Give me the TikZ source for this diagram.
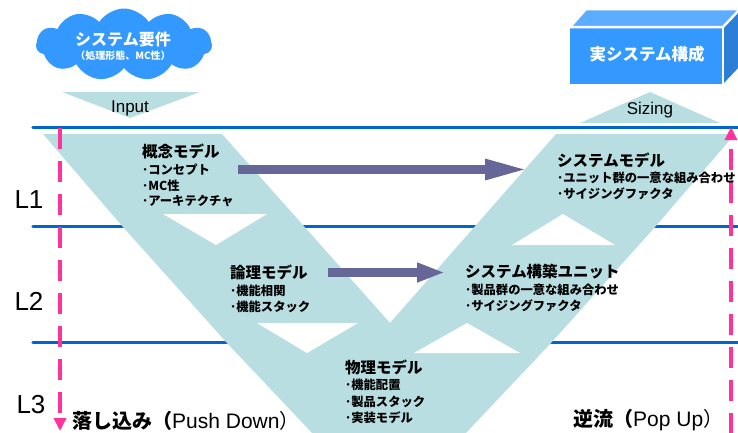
\documentclass[tikz,border=0pt]{standalone}
\usepackage{fontspec}
\setmainfont{Liberation Sans}
\newfontfamily\jp{Noto Sans CJK JP}
\usetikzlibrary{shapes.symbols,arrows.meta}
\definecolor{band}{RGB}{184,222,226}
\definecolor{lineblue}{RGB}{0,102,204}
\definecolor{cloudblue}{RGB}{51,153,255}
\definecolor{boxtop}{RGB}{92,173,255}
\definecolor{boxside}{RGB}{43,127,214}
\definecolor{hotpink}{RGB}{255,51,153}
\definecolor{slate}{RGB}{102,102,153}
\begin{document}
\begin{tikzpicture}[x=1pt,y=-1pt,
  level/.style={draw=lineblue,line width=3.5pt,line cap=round},
  bigarrow/.style={draw=slate,line width=8.5pt},
  flow/.style={draw=hotpink,line width=4pt,dash pattern=on 21pt off 12pt,-{Triangle[length=13pt,width=12pt]}},
  ttl/.style={anchor=west,inner sep=0pt,font=\jp\bfseries\fontsize{15.5}{18}\selectfont},
  bul/.style={anchor=west,inner sep=0pt,font=\jp\bfseries\fontsize{12.3}{14}\selectfont},
  lvl/.style={inner sep=0pt,font=\fontsize{26}{28}\selectfont},
  io/.style={inner sep=0pt,anchor=base,font=\fontsize{17}{20}\selectfont},
  face/.style={draw=white,line width=2.5pt,line join=round}
]
\useasboundingbox (0,0) rectangle (738,432);
\clip (0,0) rectangle (738,432);

% level lines
\coordinate (l1a) at (33,127.5); \coordinate (l1b) at (742,127.5);
\coordinate (l2a) at (33,226.5); \coordinate (l2b) at (742,226.5);
\coordinate (l3a) at (33,342.5); \coordinate (l3b) at (742,342.5);
\draw[level] (l1a) -- (l1b);
\draw[level] (l2a) -- (l2b);
\draw[level] (l3a) -- (l3b);

% V band
\fill[band] (43,134) -- (123,227) -- (227,343) -- (313,434) -- (465,434)
  -- (551,343) -- (655,227) -- (735,134) -- (556,134) -- (390,323) -- (222,134) -- cycle;
\fill[white] (163,214) -- (267,214) -- (216,245) -- cycle;
\fill[white] (257,323) -- (358,323) -- (307,353) -- cycle;
\fill[white] (512,245) -- (615,245) -- (563,214) -- cycle;
\fill[white] (414,353) -- (520,353) -- (467,323) -- cycle;

% input / sizing triangles
\fill[band] (62,92) -- (200,92) -- (130,118) -- cycle;
\fill[band] (580,123) -- (720,123) -- (650,92) -- cycle;
\node[io] (inp) at (130,112.5) {Input};
\node[io] (siz) at (650,114) {Sizing};

% cloud
\node[cloud, cloud puffs=11, cloud puff arc=115, aspect=2.4, fill=cloudblue, draw=none,
  minimum width=176pt, minimum height=72pt, inner sep=0pt] (req) at (124,44.5) {};
\node[inner sep=0pt, text=white, font=\jp\bfseries\fontsize{16}{18}\selectfont] (reqt) at (123,39) {システム要件};
\node[inner sep=0pt, text=white, font=\jp\bfseries\fontsize{10}{12}\selectfont] (reqs) at (123,56) {（処理形態、MC性）};

% 3D box
\fill[boxtop] (570,27) -- (586,9) -- (740,9) -- (723,27) -- cycle;
\fill[boxside] (723,27) -- (740,9) -- (740,66) -- (723,84) -- cycle;
\fill[cloudblue] (570,27) rectangle (723,84);
\draw[face] (570,27) -- (586,9) -- (740,9);
\draw[face] (570,27) -- (723,27) -- (740,9);
\draw[face] (723,27) -- (723,84);
\node[inner sep=0pt, text=white, font=\jp\bfseries\fontsize{16.5}{18}\selectfont] (sys) at (647,54.5) {実システム構成};

% purple arrows
\coordinate (a1s) at (238,169.5); \coordinate (a1e) at (528,169.5);
\coordinate (a2s) at (328,272.5); \coordinate (a2e) at (445,272.5);
\draw[bigarrow,-{Triangle[length=43pt,width=19pt]}] (a1s) -- (a1e);
\draw[bigarrow,-{Triangle[length=28pt,width=18pt]}] (a2s) -- (a2e);

% pink flows
\coordinate (p1s) at (60,128); \coordinate (p1e) at (60,431);
\coordinate (p2s) at (731,434); \coordinate (p2e) at (731,127);
\draw[flow] (p1s) -- (p1e);
\draw[flow] (p2s) -- (p2e);

% level labels
\node[lvl] (L1) at (29,200) {L1};
\node[lvl] (L2) at (29,301) {L2};
\node[lvl] (L3) at (31,405) {L3};

% model texts
\node[ttl] (m1) at (142,151) {概念モデル};
\node[bul] (m1a) at (142,170) {･コンセプト};
\node[bul] (m1b) at (142,186) {･MC性};
\node[bul] (m1c) at (142,201) {･アーキテクチャ};

\node[ttl] (m2) at (557,160) {システムモデル};
\node[bul] (m2a) at (557,178) {･ユニット群の一意な組み合わせ};
\node[bul] (m2b) at (557,194) {･サイジングファクタ};

\node[ttl] (m3) at (230,272) {論理モデル};
\node[bul] (m3a) at (230,291) {･機能相関};
\node[bul] (m3b) at (230,307) {･機能スタック};

\node[ttl] (m4) at (465,272) {システム構築ユニット};
\node[bul] (m4a) at (465,290) {･製品群の一意な組み合わせ};
\node[bul] (m4b) at (465,306) {･サイジングファクタ};

\node[ttl] (m5) at (345,367) {物理モデル};
\node[bul] (m5a) at (345,385) {･機能配置};
\node[bul] (m5b) at (345,402) {･製品スタック};
\node[bul] (m5c) at (345,418) {･実装モデル};

% bottom labels
\node[anchor=west, inner sep=0pt] (pd) at (72,421)
  {{\jp\bfseries\fontsize{20}{22}\selectfont 落し込み（}{\fontsize{21}{22}\selectfont Push Down}{\jp\fontsize{20}{22}\selectfont ）}};
\node[anchor=west, inner sep=0pt] (pu) at (573,420)
  {{\jp\bfseries\fontsize{20}{22}\selectfont 逆流（}{\fontsize{21}{22}\selectfont Pop Up}{\jp\fontsize{20}{22}\selectfont ）}};
\end{tikzpicture}
\end{document}
